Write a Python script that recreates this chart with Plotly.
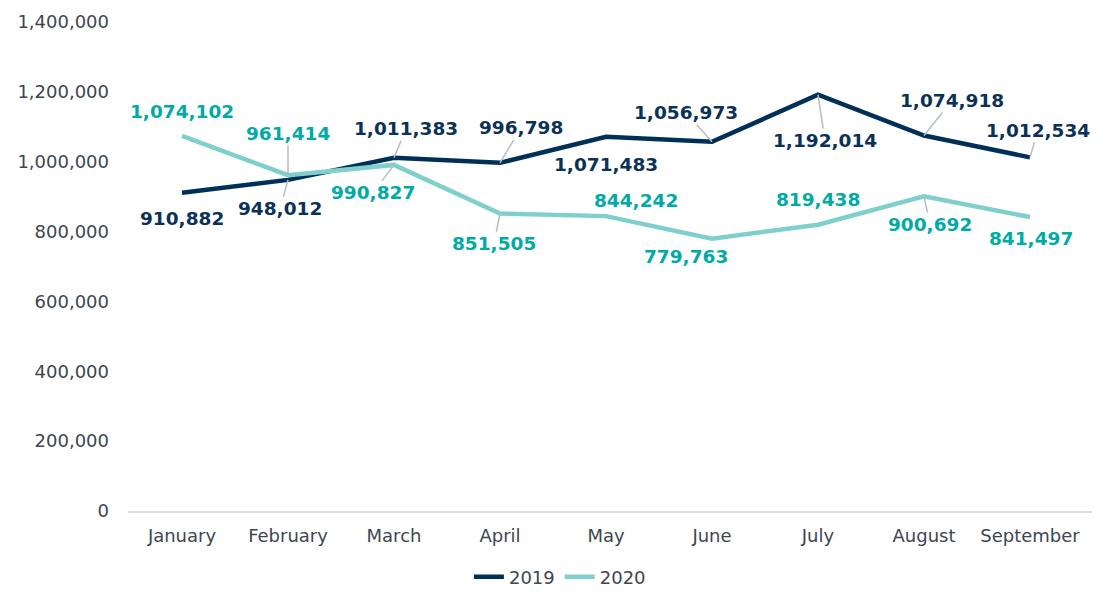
import plotly.graph_objects as go

months = ["January", "February", "March", "April", "May", "June", "July", "August", "September"]
values_2019 = [910882, 948012, 1011383, 996798, 1071483, 1056973, 1192014, 1074918, 1012534]
values_2020 = [1074102, 961414, 990827, 851505, 844242, 779763, 819438, 900692, 841497]
y_ticks = [0, 200000, 400000, 600000, 800000, 1000000, 1200000, 1400000]

# label offsets (pixels) and whether a leader line is drawn
off_2019 = [(0, 26), (-8, 29), (12, -29), (21, -35), (0, 28), (-26, -29), (7, 46), (28, -35), (8, -27)]
lead_2019 = [False, True, True, True, False, True, True, True, True]
off_2020 = [(0, -24), (0, -42), (-21, 28), (-6, 30), (30, -16), (-26, 18), (0, -25), (6, 28), (1, 21)]
lead_2020 = [False, True, True, True, False, False, False, True, False]

C19_LINE = "#003057"
C19_TEXT = "#0b3256"
C20_LINE = "#7fd0cc"
C20_TEXT = "#00aaa6"
LEADER = "#b3bcc7"
FONT = "DejaVu Sans"
TXT = "#3d4651"

fig = go.Figure()
fig.add_trace(go.Scatter(x=months, y=values_2019, mode="lines", name="2019",
                         line=dict(color=C19_LINE, width=4.5)))
fig.add_trace(go.Scatter(x=months, y=values_2020, mode="lines", name="2020",
                         line=dict(color=C20_LINE, width=4.5)))

annotations = []
for vals, offs, leads, col in [(values_2019, off_2019, lead_2019, C19_TEXT),
                               (values_2020, off_2020, lead_2020, C20_TEXT)]:
    for m, v, (ax, ay), ld in zip(months, vals, offs, leads):
        annotations.append(dict(
            x=m, y=v, xref="x", yref="y", text=f"{v:,}",
            showarrow=True, arrowhead=0, arrowwidth=1.5,
            arrowcolor=LEADER if ld else "rgba(0,0,0,0)",
            ax=ax, ay=ay, borderpad=1, standoff=0,
            font=dict(family=FONT, size=18.5, color=col, weight="bold"),
        ))

fig.update_layout(
    width=1115, height=608,
    margin=dict(l=120, r=31, t=14, b=105, autoexpand=False),
    paper_bgcolor="white", plot_bgcolor="white",
    font=dict(family=FONT, size=18, color=TXT),
    showlegend=True,
    legend=dict(orientation="h", xref="container", x=0.495, xanchor="center",
                y=-0.135, yanchor="middle",
                font=dict(family=FONT, size=18, color=TXT), itemwidth=30,
                tracegroupgap=0),
    annotations=annotations,
)
fig.update_xaxes(showgrid=False, showline=True, linecolor="#d9dee3", linewidth=1.5,
                 ticks="outside", ticklen=8, tickcolor="rgba(0,0,0,0)",
                 tickfont=dict(family=FONT, size=18, color=TXT), zeroline=False,
                 automargin=False)
fig.update_yaxes(range=[0, 1400000], tickvals=y_ticks,
                 ticktext=[f"{t:,}" for t in y_ticks],
                 showgrid=False, zeroline=False, showline=False,
                 ticklabelstandoff=18, automargin=False,
                 tickfont=dict(family=FONT, size=18, color=TXT))

fig.write_html("out.html")
